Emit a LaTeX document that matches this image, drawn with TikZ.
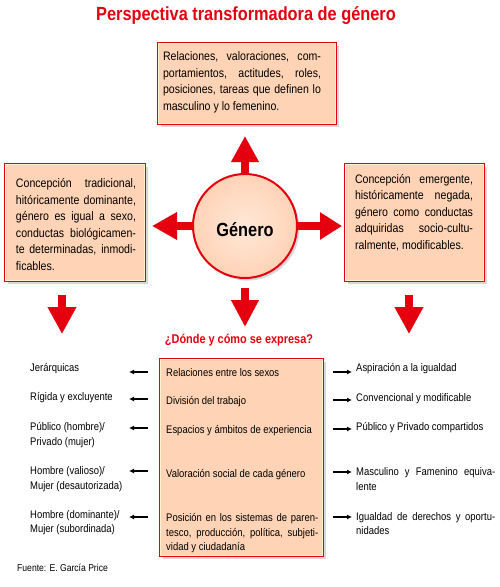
\documentclass[tikz,border=0pt]{standalone}
\usepackage{fontspec}
\setmainfont{Liberation Sans}[FakeStretch=0.86]
\usetikzlibrary{arrows.meta,shadows}
\definecolor{gred}{RGB}{228,0,15}
\definecolor{peach}{RGB}{255,211,182}
\definecolor{peachlight}{RGB}{255,232,216}
\definecolor{paleline}{RGB}{255,242,205}
\definecolor{shadowgray}{RGB}{205,208,214}
\newcommand\bodyfont{\fontsize{12.3}{16.5}\selectfont}
\newcommand\listfont{\fontsize{11}{14.5}\selectfont}
\begin{document}
\begin{tikzpicture}[x=1pt,y=-1pt,
  box/.style={draw=gred, line width=2pt, fill=peach, inner sep=0pt,
    drop shadow={shadow xshift=2.5pt, shadow yshift=-2.5pt, opacity=0.35, fill=black!45}},
  inner/.style={draw=paleline, line width=0.8pt},
  boxtext/.style={inner sep=0pt, font=\bodyfont, align=justify},
  listtext/.style={inner sep=0pt, font=\listfont, anchor=west},
  bigarrow/.style={draw=gred, line width=8pt, line cap=butt},
  bigshadow/.style={draw=shadowgray, line width=8pt, line cap=butt},
  sarrow/.style={draw=black, line width=1.3pt, -{Latex[length=5pt,width=5pt]}},
  redhead/.style={font=\fontsize{12.7}{15}\selectfont\bfseries, text=gred, inner sep=0pt}
]
\useasboundingbox (0,0) rectangle (500,587);

% title
\node[inner sep=0pt, font=\fontsize{19}{22}\selectfont\bfseries, text=gred] (title) at (246,16) {Perspectiva transformadora de género};

% coordinates for arrow ends
\coordinate (upend) at (245,136);
\coordinate (leftend) at (152,226);
\coordinate (rightend) at (342,226);
\coordinate (downstart) at (245,288);
\coordinate (downend) at (245,327);
\coordinate (ldstart) at (62,295);
\coordinate (ldend) at (62,334);
\coordinate (rdstart) at (409,295);
\coordinate (rdend) at (409,334);
\coordinate (gn) at (245,174);
\coordinate (gw) at (193,226);
\coordinate (ge) at (297,226);

% arrow shadows
\begin{scope}[shift={(2.5,2.5)}]
\draw[bigshadow, -{Triangle[width=26pt,length=26pt]}] (gn) -- (upend);
\draw[bigshadow, -{Triangle[width=26pt,length=25pt]}] (gw) -- (leftend);
\draw[bigshadow, -{Triangle[width=26pt,length=22pt]}] (ge) -- (rightend);
\draw[bigshadow, -{Triangle[width=26pt,length=27pt]}] (downstart) -- (downend);
\draw[bigshadow, -{Triangle[width=27pt,length=27pt]}] (ldstart) -- (ldend);
\draw[bigshadow, -{Triangle[width=27pt,length=27pt]}] (rdstart) -- (rdend);
\end{scope}

% boxes
\node[box, minimum width=178pt, minimum height=81pt] (top) at (247,83.5) {};
\draw[inner] ([xshift=1.5pt,yshift=-1.5pt]top.north west) rectangle ([xshift=-1.5pt,yshift=1.5pt]top.south east);
\node[boxtext, text width=158pt] (toptext) at (242,82.5) {Relaciones, valoraciones, com-\linebreak portamientos, actitudes, roles,\linebreak posiciones, tareas que definen lo\linebreak masculino y lo femenino.};

\node[box, minimum width=140pt, minimum height=117pt] (left) at (75,222.5) {};
\draw[inner] ([xshift=1.5pt,yshift=-1.5pt]left.north west) rectangle ([xshift=-1.5pt,yshift=1.5pt]left.south east);
\node[boxtext, text width=120pt] (lefttext) at (76,224.5) {Concepción tradicional,\linebreak hitóricamente dominante,\linebreak género es igual a sexo,\linebreak conductas biológicamen-\linebreak te determinadas, inmodi-\linebreak ficables.};

\node[box, minimum width=139pt, minimum height=117pt] (right) at (414.5,222.5) {};
\draw[inner] ([xshift=1.5pt,yshift=-1.5pt]right.north west) rectangle ([xshift=-1.5pt,yshift=1.5pt]right.south east);
\node[boxtext, text width=118pt] (righttext) at (414,212.5) {Concepción emergente,\linebreak históricamente negada,\linebreak género como conductas\linebreak adquiridas socio-cultu-\linebreak ralmente, modificables.};

\node[box, minimum width=163pt, minimum height=197pt] (bot) at (241.5,457.5) {};
\draw[inner] ([xshift=1.5pt,yshift=-1.5pt]bot.north west) rectangle ([xshift=-1.5pt,yshift=1.5pt]bot.south east);

% circle
\node[circle, draw=gred, line width=2pt, minimum size=104pt, inner color=peachlight, outer color=peach,
  drop shadow={shadow xshift=2.5pt, shadow yshift=-2.5pt, opacity=0.35, fill=black!45}] (gen) at (245,226) {};
\node[inner sep=0pt, font=\fontsize{19}{22}\selectfont\bfseries] (gentext) at (245,230) {Género};

% big arrows
\draw[bigarrow, -{Triangle[width=26pt,length=26pt]}] (gen.north) -- (upend);
\draw[bigarrow, -{Triangle[width=26pt,length=25pt]}] (gen.west) -- (leftend);
\draw[bigarrow, -{Triangle[width=26pt,length=22pt]}] (gen.east) -- (rightend);
\draw[bigarrow, -{Triangle[width=26pt,length=27pt]}] (downstart) -- (downend);
\draw[bigarrow, -{Triangle[width=27pt,length=27pt]}] (ldstart) -- (ldend);
\draw[bigarrow, -{Triangle[width=27pt,length=27pt]}] (rdstart) -- (rdend);

% question
\node[redhead] (question) at (239,340) {¿Dónde y cómo se expresa?};

% rows inside bottom box
\node[listtext] (r1) at (166,373) {Relaciones entre los sexos};
\node[listtext] (r2) at (166,402) {División del trabajo};
\node[listtext] (r3) at (166,431) {Espacios y ámbitos de experiencia};
\node[listtext] (r4) at (166,475) {Valoración social de cada género};
\node[listtext, text width=152pt, align=justify] (r5) at (166,533.5) {Posición en los sistemas de paren-\linebreak tesco, producción, política, subjeti-\linebreak vidad y ciudadanía};

% left texts
\node[listtext] (l1) at (30,369) {Jerárquicas};
\node[listtext] (l2) at (30,398) {Rígida y excluyente};
\node[listtext, align=left] (l3) at (30,435) {Público (hombre)/\\Privado (mujer)};
\node[listtext, align=left] (l4) at (30,479) {Hombre (valioso)/\\Mujer (desautorizada)};
\node[listtext, align=left] (l5) at (30,522.5) {Hombre (dominante)/\\Mujer (subordinada)};

% right texts
\node[listtext] (p1) at (356,369) {Aspiración a la igualdad};
\node[listtext] (p2) at (356,399) {Convencional y modificable};
\node[listtext] (p3) at (356,428) {Público y Privado compartidos};
\node[listtext, text width=139pt, align=justify] (p4) at (356,479) {Masculino y Famenino equiva-\linebreak lente};
\node[listtext, text width=139pt, align=justify] (p5) at (356,523.5) {Igualdad de derechos y oportu-\linebreak nidades};

% small arrows left
\draw[sarrow] (148,372) -- (129,372);
\draw[sarrow] (148,399) -- (129,399);
\draw[sarrow] (148,428) -- (129,428);
\draw[sarrow] (148,471) -- (129,471);
\draw[sarrow] (148,517) -- (129,517);
% small arrows right
\draw[sarrow] (333,372) -- (352,372);
\draw[sarrow] (333,400) -- (352,400);
\draw[sarrow] (333,429) -- (352,429);
\draw[sarrow] (333,472) -- (352,472);
\draw[sarrow] (333,517) -- (352,517);

% source
\node[listtext, font=\fontsize{10}{12}\selectfont] (src) at (17,568) {Fuente: E. García Price};
\end{tikzpicture}
\end{document}
